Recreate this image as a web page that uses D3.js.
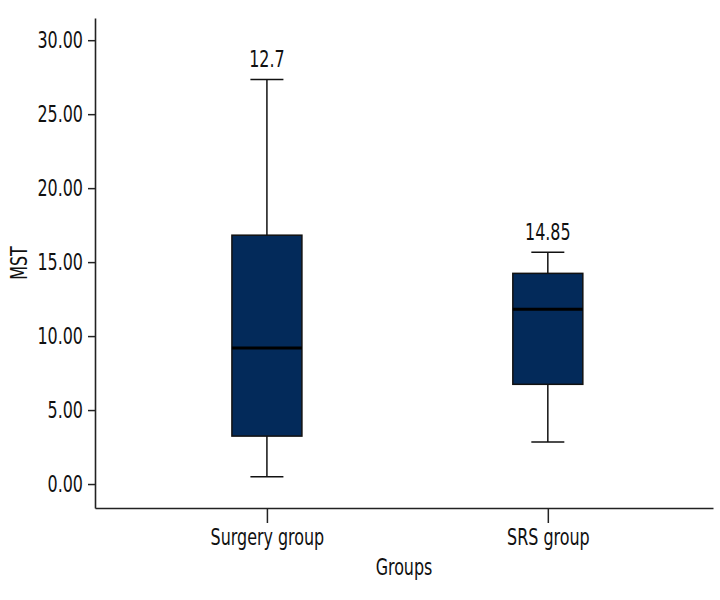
<!DOCTYPE html>
<html lang="en">
<head>
<meta charset="UTF-8">
<title>MST by group</title>
<script src="https://d3js.org/d3.v7.min.js"></script>
<style>
  body { margin: 0; background: #fff; }
  text { font-family: "DejaVu Sans Condensed", "DejaVu Sans", sans-serif; fill: #111; }
</style>
</head>
<body>
<div id="chart"></div>
<script>
// data
const groups = ["Surgery group", "SRS group"];
const whiskerLow = [0.49, 2.84];
const q1 = [3.24, 6.74];
const median = [9.2, 11.82];
const q3 = [16.82, 14.24];
const whiskerHigh = [27.35, 15.66];
const topLabels = ["12.7", "14.85"];
const yTicks = [0, 5, 10, 15, 20, 25, 30];

const width = 720, height = 600;
const plot = { left: 95, right: 713, top: 18, bottom: 508 };
const squeeze = 0.77; // the original font is a narrow one, so squeeze text horizontally

const svg = d3.select("#chart").append("svg")
    .attr("width", width)
    .attr("height", height);

const x = d3.scalePoint()
    .domain(groups)
    .range([plot.left, plot.right])
    .padding(0.6)
    .align(0.51);

const y = d3.scaleLinear()
    .domain([-1.62, 31.5])
    .range([plot.bottom, plot.top]);

// Y axis
const yAxis = svg.append("g")
    .attr("transform", `translate(${plot.left},0)`)
    .call(d3.axisLeft(y).tickValues(yTicks).tickFormat(d3.format(".2f")).tickSize(7).tickPadding(5).tickSizeOuter(0));
yAxis.select(".domain").attr("stroke", "#222").attr("stroke-width", 1.6);
yAxis.selectAll(".tick line").attr("stroke", "#222").attr("stroke-width", 1.5);
yAxis.selectAll("text")
    .attr("font-size", "23px").attr("font-family", null).attr("fill", "#111")
    .attr("x", -12 / squeeze)
    .attr("transform", `scale(${squeeze},1)`);

// X axis
const xAxis = svg.append("g")
    .attr("transform", `translate(0,${plot.bottom})`)
    .call(d3.axisBottom(x).tickSize(15).tickPadding(6).tickSizeOuter(0));
xAxis.select(".domain").attr("stroke", "#222").attr("stroke-width", 1.6);
xAxis.selectAll(".tick line").attr("stroke", "#222").attr("stroke-width", 1.5);
xAxis.selectAll("text")
    .attr("font-size", "23px").attr("font-family", null).attr("fill", "#111")
    .attr("transform", `scale(${squeeze},1)`);

// boxes
const boxW = 70, capW = 33;
const box = svg.append("g").selectAll("g")
    .data(groups)
    .join("g")
    .attr("transform", d => `translate(${x(d)},0)`);

// whisker stems
box.append("line")
    .attr("y1", (d, i) => y(whiskerHigh[i]))
    .attr("y2", (d, i) => y(q3[i]))
    .attr("stroke", "#111").attr("stroke-width", 1.5);
box.append("line")
    .attr("y1", (d, i) => y(q1[i]))
    .attr("y2", (d, i) => y(whiskerLow[i]))
    .attr("stroke", "#111").attr("stroke-width", 1.5);

// caps
box.append("line")
    .attr("x1", -capW / 2).attr("x2", capW / 2)
    .attr("y1", (d, i) => y(whiskerHigh[i])).attr("y2", (d, i) => y(whiskerHigh[i]))
    .attr("stroke", "#111").attr("stroke-width", 1.5);
box.append("line")
    .attr("x1", -capW / 2).attr("x2", capW / 2)
    .attr("y1", (d, i) => y(whiskerLow[i])).attr("y2", (d, i) => y(whiskerLow[i]))
    .attr("stroke", "#111").attr("stroke-width", 1.5);

// IQR box
box.append("rect")
    .attr("x", -boxW / 2)
    .attr("width", boxW)
    .attr("y", (d, i) => y(q3[i]))
    .attr("height", (d, i) => y(q1[i]) - y(q3[i]))
    .attr("fill", "#032a5a")
    .attr("stroke", "#111")
    .attr("stroke-width", 1.5);

// median
box.append("line")
    .attr("x1", -boxW / 2).attr("x2", boxW / 2)
    .attr("y1", (d, i) => y(median[i])).attr("y2", (d, i) => y(median[i]))
    .attr("stroke", "#000").attr("stroke-width", 3);

// value above the upper whisker
box.append("text")
    .attr("transform", (d, i) => `translate(0,${y(whiskerHigh[i]) - 12}) scale(${squeeze},1)`)
    .attr("text-anchor", "middle")
    .attr("font-size", "23px")
    .text((d, i) => topLabels[i]);

// axis titles
svg.append("text")
    .attr("transform", `translate(${(plot.left + plot.right) / 2},575) scale(${squeeze},1)`)
    .attr("text-anchor", "middle")
    .attr("font-size", "23px")
    .text("Groups");

svg.append("text")
    .attr("transform", `translate(27,${(plot.top + plot.bottom) / 2}) rotate(-90) scale(${squeeze},1)`)
    .attr("text-anchor", "middle")
    .attr("font-size", "23px")
    .text("MST");
</script>
</body>
</html>
